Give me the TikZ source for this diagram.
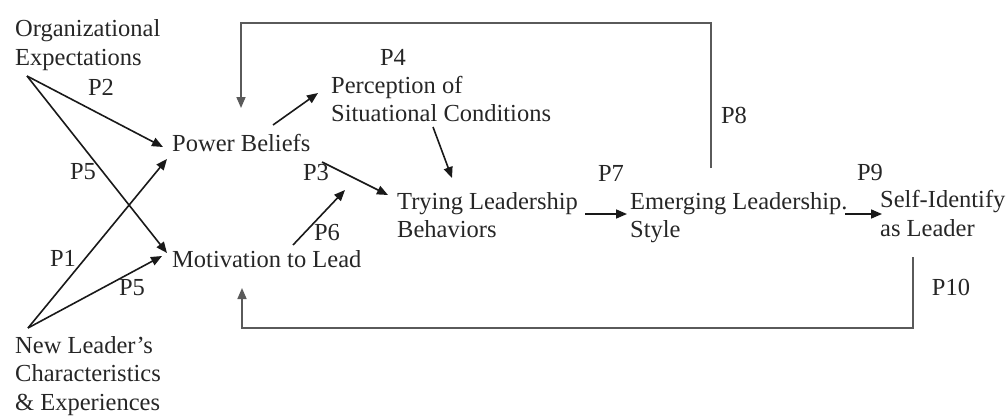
\documentclass[tikz,border=0pt]{standalone}
\usepackage{fontspec}
\setmainfont{Liberation Serif}
\usetikzlibrary{arrows.meta}
\definecolor{txt}{HTML}{262626}
\definecolor{fb}{HTML}{5A5A5A}
\tikzset{
  lbl/.style={inner sep=0pt, anchor=base west, align=left, text=txt,
    font=\fontsize{24.5}{28.5}\selectfont},
  plab/.style={inner sep=0pt, anchor=center, text=txt,
    font=\fontsize{24.5}{28.5}\selectfont},
  arr/.style={draw=black!90, line width=1.6pt, -{Triangle[length=11pt,width=9pt]}},
  fbarr/.style={draw=fb, line width=1.6pt, -{Triangle[length=11pt,width=9pt]}},
}
\begin{document}
\begin{tikzpicture}[x=1pt,y=-1pt]
\useasboundingbox (0,0) rectangle (1008,415);
% nodes (base = baseline of the last line)
\node[lbl] (exp) at (15,65) {Organizational\\Expectations};
\node[lbl] (nlc) at (15,410) {New Leader’s\\Characteristics\\\& Experiences};
\node[lbl] (pb) at (172,151) {Power Beliefs};
\node[lbl] (mtl) at (172,267) {Motivation to Lead};
\node[lbl] (psc) at (331,121.5) {Perception of\\Situational Conditions};
\node[lbl] (tlb) at (397,237.5) {Trying Leadership\\Behaviors};
\node[lbl] (els) at (630,237.5) {Emerging Leadership.\\Style};
\node[lbl] (sil) at (880,236) {Self-Identify\\as Leader};
% labels
\node[plab] (p2) at (101,87) {P2};
\node[plab] (p5a) at (83,172) {P5};
\node[plab] (p1) at (63,258) {P1};
\node[plab] (p5b) at (132,288) {P5};
\node[plab] (p4) at (393,57) {P4};
\node[plab] (p3) at (316,173) {P3};
\node[plab] (p6) at (327,233) {P6};
\node[plab] (p7) at (611,173) {P7};
\node[plab] (p8) at (734,115) {P8};
\node[plab] (p9) at (870,173) {P9};
\node[plab] (p10) at (951,287) {P10};
% branch points
\coordinate (expj) at (27,76);
\coordinate (nlcj) at (28,328);
% connectors
\draw[arr] (expj) -- ([shift={(-9,-4)}]pb.base west);
\draw[arr] (expj) -- ([shift={(-5,-14)}]mtl.base west);
\draw[arr] (nlcj) -- ([shift={(-5,8)}]pb.base west);
\draw[arr] (nlcj) -- ([shift={(-10,-11)}]mtl.base west);
\draw[arr] ([shift={(101,-26)}]pb.base west) -- ([shift={(-13,-28.5)}]psc.base west);
\draw[arr] ([shift={(150,11)}]pb.base west) -- ([shift={(-9,-42.5)}]tlb.base west);
\draw[arr] ([shift={(121,-22)}]mtl.base west) -- ([shift={(-52,-47.5)}]tlb.base west);
\draw[arr] ([shift={(102,5.5)}]psc.base west) -- ([shift={(55,-59.5)}]tlb.base west);
\draw[arr] ([shift={(188,-23.5)}]tlb.base west) -- ([shift={(-3,-23.5)}]els.base west);
\draw[arr] ([shift={(215,-23.5)}]els.base west) -- ([shift={(2,-22)}]sil.base west);
\draw[fbarr] ([shift={(81,-69.5)}]els.base west) -- ++(0,-145) -| ([shift={(69,-43)}]pb.base west);
\draw[fbarr] ([shift={(33,21)}]sil.base west) -- ++(0,71) -| ([shift={(70,21)}]mtl.base west);
\end{tikzpicture}
\end{document}
